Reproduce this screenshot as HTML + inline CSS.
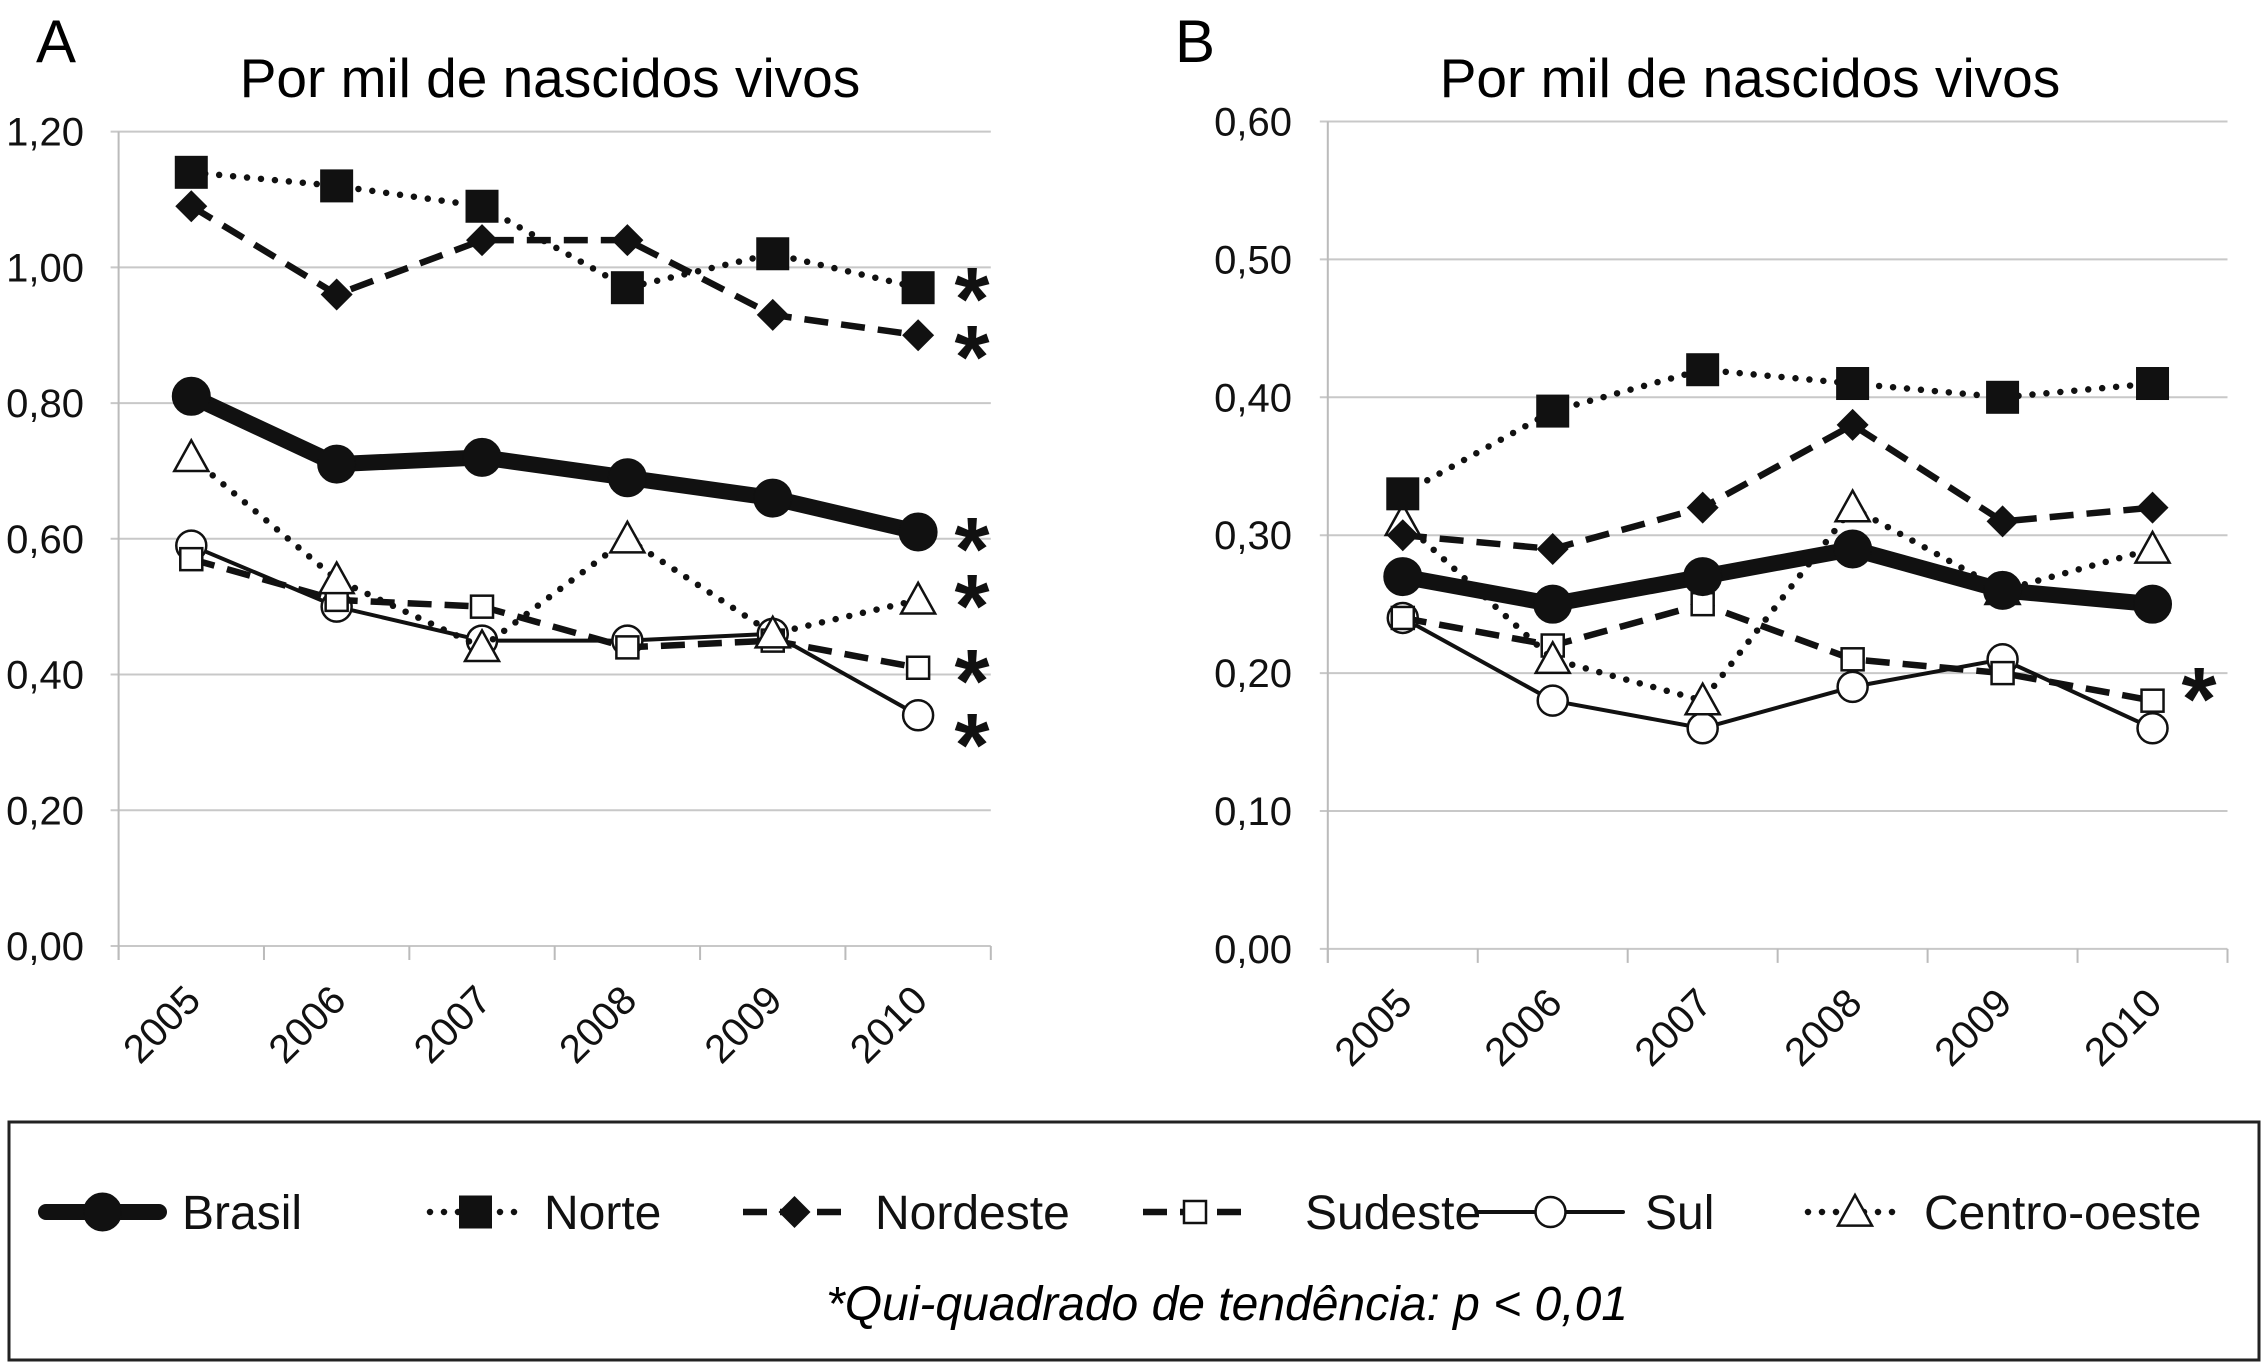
<!DOCTYPE html>
<html><head><meta charset="utf-8"><style>
body{margin:0;background:#fff;}
svg{display:block;font-family:"Liberation Sans",sans-serif;}
</style></head><body>
<svg id="c" width="2268" height="1364" viewBox="0 0 2268 1364">
<text x="36" y="62" font-size="60">A</text>
<text x="550" y="97" font-size="55" text-anchor="middle">Por mil de nascidos vivos</text>
<text x="1175" y="62" font-size="60">B</text>
<text x="1750" y="97" font-size="55" text-anchor="middle">Por mil de nascidos vivos</text>
<g id="pa"></g>
<g id="pb"></g>
<rect x="9" y="1122" width="2250" height="238" fill="none" stroke="#222" stroke-width="3"/>
<g id="leg"></g>
<text x="1227" y="1320" font-size="48" font-style="italic" text-anchor="middle">*Qui-quadrado de tendência: p &lt; 0,01</text>
</svg>
<script>
const years=["2005","2006","2007","2008","2009","2010"];
const ticksA=[0,0.2,0.4,0.6,0.8,1.0,1.2];
const ticksB=[0,0.1,0.2,0.3,0.4,0.5,0.6];
const brasilA=[0.81,0.71,0.72,0.69,0.66,0.61];
const norteA=[1.14,1.12,1.09,0.97,1.02,0.97];
const nordesteA=[1.09,0.96,1.04,1.04,0.93,0.90];
const sudesteA=[0.57,0.51,0.50,0.44,0.45,0.41];
const sulA=[0.59,0.50,0.45,0.45,0.46,0.34];
const centroA=[0.72,0.54,0.44,0.60,0.46,0.51];
const brasilB=[0.27,0.25,0.27,0.29,0.26,0.25];
const norteB=[0.33,0.39,0.42,0.41,0.40,0.41];
const nordesteB=[0.30,0.29,0.32,0.38,0.31,0.32];
const sudesteB=[0.24,0.22,0.25,0.21,0.20,0.18];
const sulB=[0.24,0.18,0.16,0.19,0.21,0.16];
const centroB=[0.31,0.21,0.18,0.32,0.26,0.29];
const NS="http://www.w3.org/2000/svg";
function mk(p,t,a){const e=document.createElementNS(NS,t);for(const k in a)e.setAttribute(k,a[k]);p.appendChild(e);return e;}
const styles={
 brasil:{w:16,dash:"",cap:"round",m:"circle",r:19,fill:"#111"},
 norte:{w:6.5,dash:"0 14",cap:"round",m:"square",r:16,fill:"#111"},
 nordeste:{w:6.5,dash:"24 13",cap:"butt",m:"diamond",r:16,fill:"#111"},
 sudeste:{w:6.5,dash:"24 13",cap:"butt",m:"square",r:11,fill:"#fff"},
 sul:{w:4,dash:"",cap:"round",m:"circle",r:15,fill:"#fff"},
 centro:{w:6.5,dash:"0 14",cap:"round",m:"triangle",r:17,fill:"#fff"}
};
function marker(g,kind,x,y,st){
 let e;
 const sw=st.fill=="#fff"?2.5:1;
 if(kind=="circle")e=mk(g,"circle",{cx:x,cy:y,r:st.r,fill:st.fill,stroke:"#111","stroke-width":sw});
 else if(kind=="square")e=mk(g,"rect",{x:x-st.r,y:y-st.r,width:2*st.r,height:2*st.r,fill:st.fill,stroke:"#111","stroke-width":sw});
 else if(kind=="diamond")e=mk(g,"path",{d:`M${x},${y-st.r}L${x+st.r},${y}L${x},${y+st.r}L${x-st.r},${y}Z`,fill:st.fill});
 else e=mk(g,"path",{d:`M${x},${y-st.r}L${x+st.r},${y+st.r*0.8}L${x-st.r},${y+st.r*0.8}Z`,fill:st.fill,stroke:"#111","stroke-width":sw});
 return e;
}
function panel(id,x0,x1,yTop,yBot,max,ticks,series,stars,labRight){
 const g=document.getElementById(id);
 const band=(x1-x0)/years.length;
 const X=i=>x0+band*(i+0.5);
 const Y=v=>yBot-(v/max)*(yBot-yTop);
 ticks.forEach(t=>{
  const l=mk(g,"line",{x1:x0-8,x2:x1,y1:Y(t),y2:Y(t),stroke:"#c8c8c8","stroke-width":2});
  
  
  const tx=mk(g,"text",{x:labRight,y:Y(t)+14,"font-size":40,"text-anchor":"end",fill:"#111"});
  tx.textContent=t.toFixed(2).replace(".",",");
  
  
 });
 const ax=mk(g,"line",{x1:x0,x2:x0,y1:yTop,y2:yBot+14,stroke:"#bbb","stroke-width":2});
 
 
 for(let i=0;i<=years.length;i++){
  const tk=mk(g,"line",{x1:x0+band*i,x2:x0+band*i,y1:yBot,y2:yBot+14,stroke:"#bbb","stroke-width":2});
  
  
 }
 years.forEach((yr,i)=>{
  const cx=X(i)-20,cy=yBot+88;
  const t=mk(g,"text",{x:cx,y:cy,"font-size":40,"text-anchor":"middle",fill:"#111",transform:`rotate(-45 ${cx} ${cy})`});
  t.textContent=yr;
  
  
 });
 const order=["sul","sudeste","centro","nordeste","norte","brasil"];
 order.forEach(k=>{
  const st=styles[k],vals=series[k];
  const sg=mk(g,"g",{});
  
  
  const p=mk(sg,"polyline",{points:vals.map((v,i)=>X(i)+","+Y(v)).join(" "),fill:"none",stroke:"#111","stroke-width":st.w,"stroke-dasharray":st.dash,"stroke-linecap":st.cap,"stroke-linejoin":"round"});
  
  
  vals.forEach((v,i)=>{
   const m=marker(sg,st.m,X(i),Y(v),st);
   
   
  });
 });
 stars.forEach(s=>{
  const t=mk(g,"text",{x:s[0],y:s[1],"font-size":90,"font-weight":"bold","text-anchor":"middle",fill:"#111"});
  t.textContent="*";
  
  
 });
}
panel("pa",118.6,990.8,131.6,946,1.2,ticksA,
 {brasil:brasilA,norte:norteA,nordeste:nordesteA,sudeste:sudesteA,sul:sulA,centro:centroA},
 [[972,330],[972,388],[972,580],[972,637],[972,712],[972,776]],84);
panel("pb",1327.8,2227.5,121.5,948.9,0.6,ticksB,
 {brasil:brasilB,norte:norteB,nordeste:nordesteB,sudeste:sudesteB,sul:sulB,centro:centroB},
 [[2199,730]],1292);
const legNames=["Brasil","Norte","Nordeste","Sudeste","Sul","Centro-oeste"];
const legKeys=["brasil","norte","nordeste","sudeste","sul","centro"];
const legLine=[[46,159],[430,521],[743,846],[1143,1247],[1478,1623],[1808,1902]];
const legText=[182,544,875,1305,1645,1924];
const lg=document.getElementById("leg");
const ly=1212;
legKeys.forEach((k,i)=>{
 const st=styles[k];
 const it=mk(lg,"g",{});
 
 
 mk(it,"line",{x1:legLine[i][0],x2:legLine[i][1],y1:ly,y2:ly,stroke:"#111","stroke-width":st.w,"stroke-dasharray":st.dash,"stroke-linecap":st.cap});
 marker(it,st.m,(legLine[i][0]+legLine[i][1])/2,ly,st);
 const t=mk(it,"text",{x:legText[i],y:ly+17,"font-size":48,fill:"#111"});
 t.textContent=legNames[i];
});
</script>
</body></html>
